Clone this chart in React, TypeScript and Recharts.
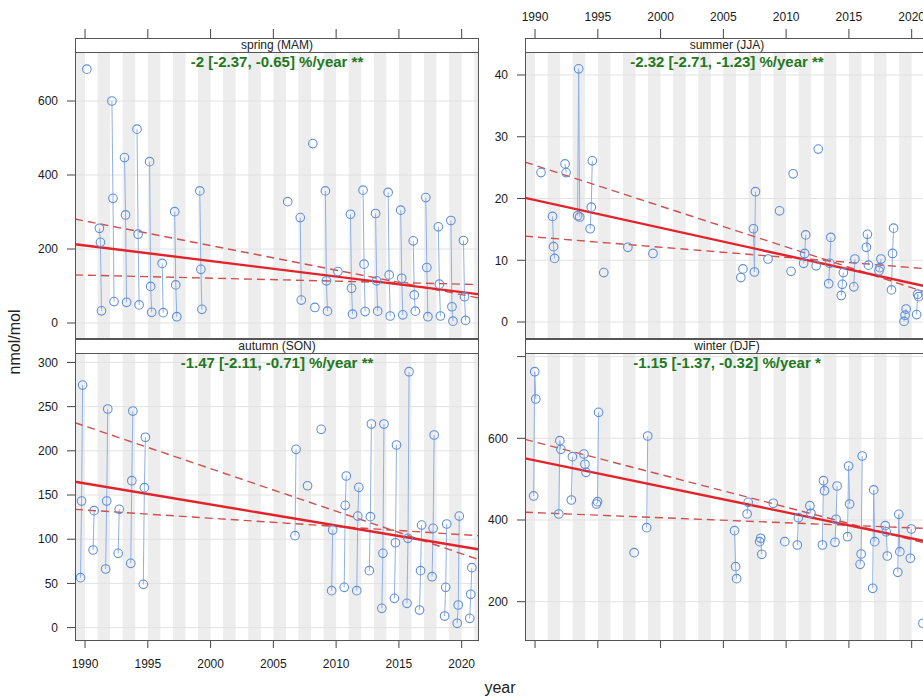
import { ComposedChart, Line, Scatter, XAxis, YAxis, ReferenceArea, ReferenceLine } from 'recharts'

type Row = [number, number | null, number | null, number | null]

const FONT = '"Liberation Sans", Arial, Helvetica, sans-serif'

const yearTicks = [1990, 1995, 2000, 2005, 2010, 2015, 2020]
const xRange: [number, number] = [1989.2, 2021.3]

// month numbers of each season (winter starts with the December of the year before)
const springMonths = [3, 4, 5]
const summerMonths = [6, 7, 8]
const autumnMonths = [9, 10, 11]
const winterMonths = [0, 1, 2]

// [year, month1, month2, month3] in nmol/mol
const spring: Row[] = [
  [1990, 686, null, null],
  [1991, 256, 218, 33],
  [1992, 600, 337, 58],
  [1993, 447, 292, 56],
  [1994, 524, 240, 49],
  [1995, 436, 99, 29],
  [1996, 161, 28, null],
  [1997, 301, 103, 17],
  [1999, 357, 145, 37],
  [2006, 328, null, null],
  [2007, 285, 62, null],
  [2008, 485, null, 42],
  [2009, 357, 114, 32],
  [2010, 139, null, null],
  [2011, 294, 94, 24],
  [2012, 359, 159, 31],
  [2013, 296, 114, 32],
  [2014, 353, 130, 19],
  [2015, 305, 121, 22],
  [2016, 222, 76, 32],
  [2017, 339, 150, 17],
  [2018, 260, 105, 19],
  [2019, 277, 44, 5],
  [2020, 223, 71, 7],
]

const summer: Row[] = [
  [1990, null, 24.2, null],
  [1991, 17.1, 12.2, 10.3],
  [1992, 25.6, 24.2, null],
  [1993, 17.2, 41.0, 17.0],
  [1994, 15.1, 18.6, 26.1],
  [1995, null, 8.0, null],
  [1997, 12.1, null, null],
  [1999, 11.1, null, null],
  [2006, 7.2, null, 8.6],
  [2007, 15.1, 8.1, 21.1],
  [2008, null, null, 10.2],
  [2009, null, 18.0, null],
  [2010, 8.2, null, 24.0],
  [2011, 9.5, 11.1, 14.1],
  [2012, 9.1, null, 28.0],
  [2013, 6.2, 9.5, 13.7],
  [2014, 4.3, 6.1, 8.0],
  [2015, 5.7, 10.2, null],
  [2016, 12.1, 14.2, 9.2],
  [2017, 8.3, 8.8, 10.2],
  [2018, 5.2, 11.1, 15.2],
  [2019, 0.1, 1.1, 2.1],
  [2020, 1.2, 4.5, 4.1],
]

const autumn: Row[] = [
  [1989, 56.5, 143.2, 274.4],
  [1990, 87.8, 132.3, null],
  [1991, 66.3, 143.2, 247.3],
  [1992, 84.0, 133.8, null],
  [1993, 72.7, 166.2, 245.0],
  [1994, 49.0, 158.3, 215.3],
  [2006, null, 104.0, 201.7],
  [2007, null, 160.5, null],
  [2008, null, null, 224.3],
  [2009, 41.8, 110.4, null],
  [2010, 45.6, 138.3, 171.5],
  [2011, 41.8, 126.2, 158.7],
  [2012, 64.4, 125.5, 230.3],
  [2013, 21.8, 84.0, 230.3],
  [2014, 33.1, 96.0, 206.6],
  [2015, 27.5, 101.0, 289.5],
  [2016, 19.9, 64.4, 116.0],
  [2017, 57.6, 112.3, 217.9],
  [2018, 13.1, 45.6, 117.2],
  [2019, 4.9, 25.6, 126.2],
  [2020, 10.5, 37.7, 67.8],
]

const winter: Row[] = [
  [1990, 458.8, 763, 696.2],
  [1992, 414.7, 594.2, 573.1],
  [1993, 449, 555, null],
  [1994, 561.6, 536.4, 516.8],
  [1995, 439.2, 444.8, 663.6],
  [1998, 320, null, null],
  [1999, 381.2, 605.6, null],
  [2006, 373.8, 285.7, 256.3],
  [2007, 414.7, 443.3, null],
  [2008, 346.9, 355.2, 316],
  [2009, null, 441, null],
  [2010, 347, null, null],
  [2011, 338.8, 405.6, null],
  [2012, 435, 416.4, null],
  [2013, 338.8, 496.2, 471.7],
  [2014, 345.4, 401.7, 483.2],
  [2015, 359.1, 532.2, 439.2],
  [2016, 291.5, 316.8, 556.7],
  [2017, 232.8, 473.6, 346.9],
  [2018, 386.1, 371, 311.9],
  [2019, 272, 413.9, 322.4],
  [2020, 306.3, 378, null],
  [2021, 147.2, null, null],
]

// Theil-Sen trend and its confidence bounds, values at the two ends of the year axis
const springTrend = [213, 78]
const springHigh = [281, 68]
const springLow = [130, 104]
const summerTrend = [20.1, 5.7]
const summerHigh = [25.9, 4.7]
const summerLow = [13.9, 8.6]
const autumnTrend = [165, 88.6]
const autumnHigh = [231.8, 77.3]
const autumnLow = [133.8, 104]
const winterTrend = [551, 346.7]
const winterHigh = [597.5, 341.2]
const winterLow = [419, 379.2]

const Ring = (props: any) => (
  <circle cx={props.cx} cy={props.cy} r={4.3} fill="none" stroke="#5f8fdc" strokeWidth={1.1} />
)

type PanelProps = {
  left: number
  top: number
  upper: boolean
  title: string
  stat: string
  rows: Row[]
  months: number[]
  yDomain: [number, number]
  yTicks: number[]
  hideTick?: number
  trend: number[]
  ciHigh: number[]
  ciLow: number[]
  xLabels: boolean
}

function Panel(p: PanelProps) {
  const groups = p.rows.map((r) => p.months.map((m, i) => ({ x: r[0] + (m - 1.3) / 12, y: r[i + 1] })))
  const points = groups.flat().filter((d) => d.y !== null)
  const bands: number[][] = []
  for (let y = 1989; y < xRange[1]; y += 2) bands.push([Math.max(y, xRange[0]), Math.min(y + 1, xRange[1])])
  const seg = (v: number[]) => [
    { x: xRange[0], y: v[0] },
    { x: xRange[1], y: v[1] },
  ]
  const plotTop = p.upper ? 38 : 0
  const plotH = p.upper ? 301 : 302
  const chartH = p.upper ? 339 : 341
  const tickStyle = { fill: '#1a1a1a', fontSize: 12, fontFamily: FONT }

  return (
    <div style={{ position: 'absolute', left: p.left, top: p.top, width: 480, height: chartH }}>
      <ComposedChart width={480} height={chartH} margin={{ top: 0, right: 2, bottom: p.upper ? 1 : 0, left: 0 }}>
        <XAxis
          type="number"
          dataKey="x"
          domain={xRange}
          allowDataOverflow
          ticks={yearTicks}
          interval={0}
          orientation={p.upper ? 'top' : 'bottom'}
          height={p.upper ? 38 : 40}
          axisLine={false}
          tickLine={{ stroke: '#444' }}
          tickSize={p.upper ? 9 : 8}
          tickMargin={p.upper ? 8 : 11}
          tick={tickStyle}
          tickFormatter={(v) => (p.xLabels ? String(v) : '')}
        />
        <YAxis
          type="number"
          dataKey="y"
          domain={p.yDomain}
          allowDataOverflow
          ticks={p.yTicks}
          interval={0}
          width={75}
          axisLine={false}
          tickLine={{ stroke: '#444' }}
          tickSize={8}
          tickMargin={9}
          tick={tickStyle}
          tickFormatter={(v) => (v === p.hideTick ? '' : String(v))}
        />
        {bands.map((b, i) => (
          <ReferenceArea key={'b' + i} x1={b[0]} x2={b[1]} fill="#ededed" fillOpacity={1} stroke="none" />
        ))}
        {p.yTicks.map((t) => (
          <ReferenceLine key={'g' + t} y={t} stroke="#e2e2e2" strokeWidth={1} />
        ))}
        {groups.map((g, i) => (
          <Line
            key={'l' + i}
            data={g}
            dataKey="y"
            stroke="#8fb0e6"
            strokeWidth={1}
            dot={false}
            isAnimationActive={false}
          />
        ))}
        <Line data={seg(p.ciHigh)} dataKey="y" stroke="#cf4f4f" strokeWidth={1.4} strokeDasharray="8 5" dot={false} isAnimationActive={false} />
        <Line data={seg(p.ciLow)} dataKey="y" stroke="#cf4f4f" strokeWidth={1.4} strokeDasharray="8 5" dot={false} isAnimationActive={false} />
        <Line data={seg(p.trend)} dataKey="y" stroke="#e3222a" strokeWidth={2.4} dot={false} isAnimationActive={false} />
        <Scatter data={points} dataKey="y" shape={Ring} isAnimationActive={false} />
      </ComposedChart>
      <div
        style={{
          position: 'absolute',
          left: 75,
          top: plotTop,
          width: 404,
          height: plotH,
          border: '1px solid #555',
          boxSizing: 'border-box',
          pointerEvents: 'none',
        }}
      />
      <div
        style={{
          position: 'absolute',
          left: 75,
          top: plotTop,
          width: 404,
          height: 15,
          border: '1px solid #555',
          boxSizing: 'border-box',
          background: '#fff',
          fontSize: 12,
          lineHeight: '13px',
          textAlign: 'center',
          color: '#222',
        }}
      >
        {p.title}
      </div>
      <div
        style={{
          position: 'absolute',
          left: 75,
          top: plotTop + 15,
          width: 404,
          textAlign: 'center',
          fontSize: 15,
          lineHeight: '18px',
          fontWeight: 'bold',
          color: '#217821',
        }}
      >
        {p.stat}
      </div>
    </div>
  )
}

export default function App() {
  return (
    <div
      style={{
        position: 'fixed',
        left: 0,
        top: 0,
        width: 923,
        height: 700,
        overflow: 'hidden',
        background: '#fff',
        fontFamily: FONT,
      }}
    >
      <Panel
        left={0}
        top={0}
        upper
        title="spring (MAM)"
        stat="-2 [-2.37, -0.65] %/year **"
        rows={spring}
        months={springMonths}
        yDomain={[-40.5, 770.3]}
        yTicks={[0, 200, 400, 600]}
        trend={springTrend}
        ciHigh={springHigh}
        ciLow={springLow}
        xLabels={false}
      />
      <Panel
        left={450}
        top={0}
        upper
        title="summer (JJA)"
        stat="-2.32 [-2.71, -1.23] %/year **"
        rows={summer}
        months={summerMonths}
        yDomain={[-2.59, 45.99]}
        yTicks={[0, 10, 20, 30, 40]}
        trend={summerTrend}
        ciHigh={summerHigh}
        ciLow={summerLow}
        xLabels
      />
      <Panel
        left={0}
        top={339}
        upper={false}
        title="autumn (SON)"
        stat="-1.47 [-2.11, -0.71] %/year **"
        rows={autumn}
        months={autumnMonths}
        yDomain={[-14, 326.5]}
        yTicks={[0, 50, 100, 150, 200, 250, 300]}
        trend={autumnTrend}
        ciHigh={autumnHigh}
        ciLow={autumnLow}
        xLabels
      />
      <Panel
        left={450}
        top={339}
        upper={false}
        title="winter (DJF)"
        stat="-1.15 [-1.37, -0.32] %/year *"
        rows={winter}
        months={winterMonths}
        yDomain={[106.2, 843.1]}
        yTicks={[200, 400, 600, 800]}
        hideTick={800}
        trend={winterTrend}
        ciHigh={winterHigh}
        ciLow={winterLow}
        xLabels={false}
      />
      <div
        style={{
          position: 'absolute',
          left: 470,
          top: 678,
          width: 60,
          textAlign: 'center',
          fontSize: 16,
          lineHeight: '20px',
          color: '#222',
        }}
      >
        year
      </div>
      <div
        style={{
          position: 'absolute',
          left: 15,
          top: 342,
          transform: 'translate(-50%, -50%) rotate(-90deg)',
          fontSize: 16,
          lineHeight: '20px',
          color: '#222',
          whiteSpace: 'nowrap',
        }}
      >
        nmol/mol
      </div>
    </div>
  )
}
